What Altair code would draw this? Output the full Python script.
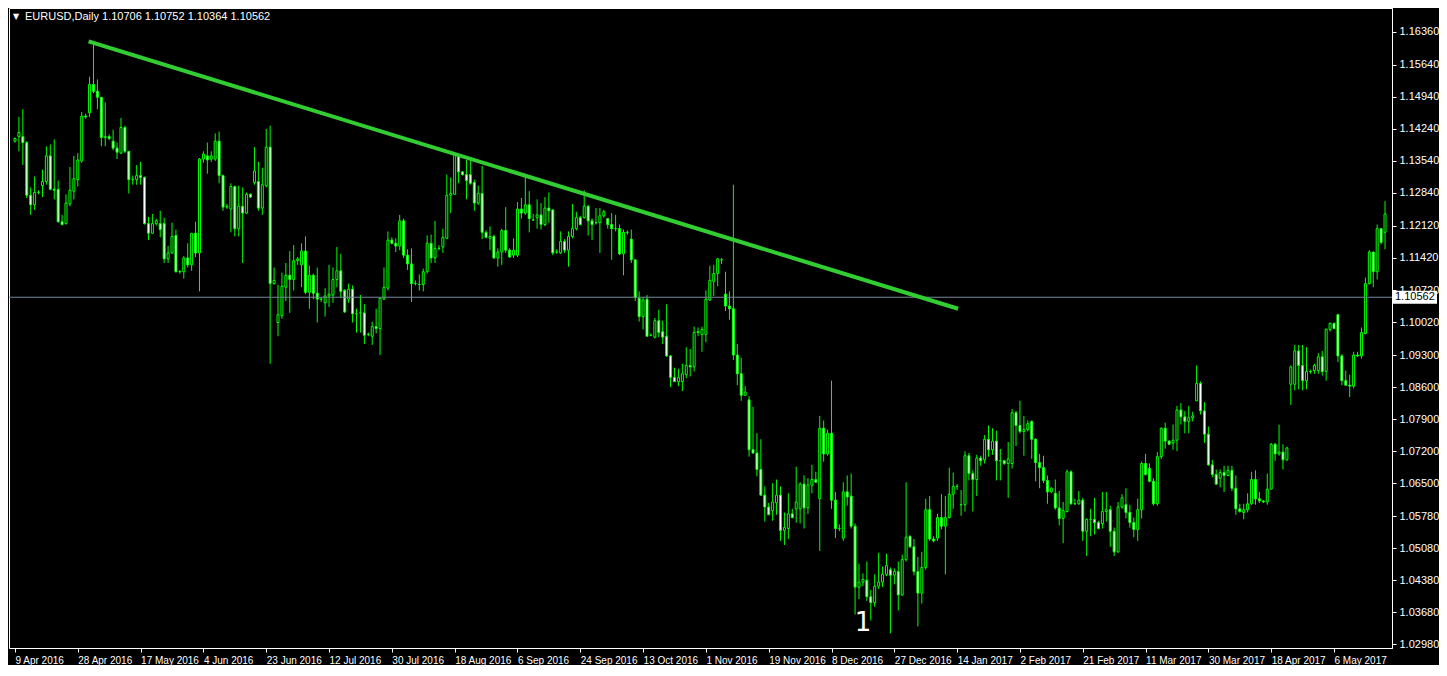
import altair as alt
import pandas as pd

# ---------------- data (EURUSD, Daily) ----------------
opens = [
1.1397,1.1407,1.1407,1.1394,1.1279,1.1258,1.1285,1.1300,1.1309,1.1365,
1.1292,1.1292,1.1221,1.1217,1.1260,1.1288,1.1313,1.1354,1.1452,1.1459,
1.1521,1.1506,1.1493,1.1405,1.1407,1.1397,1.1382,1.1371,1.1427,1.1375,
1.1313,1.1313,1.1322,1.1318,1.1217,1.1196,1.1217,1.1217,1.1217,1.1140,
1.1153,1.1191,1.1112,1.1112,1.1142,1.1127,1.1196,1.1153,1.1358,1.1365,
1.1358,1.1358,1.1397,1.1322,1.1253,1.1249,1.1298,1.1206,1.1255,1.1240,
1.1281,1.1307,1.1309,1.1251,1.1300,1.1384,1.1086,1.1001,1.1016,1.1078,
1.1104,1.1095,1.1136,1.1127,1.1157,1.1067,1.1104,1.1065,1.1052,1.1044,
1.1059,1.1061,1.1095,1.1114,1.1071,1.1052,1.1074,1.1020,1.1022,1.1022,
1.0975,1.0971,1.0992,1.0988,1.1052,1.1076,1.1181,1.1174,1.1168,1.1223,
1.1148,1.1129,1.1086,1.1084,1.1084,1.1112,1.1174,1.1142,1.1163,1.1166,
1.1185,1.1279,1.1281,1.1367,1.1330,1.1324,1.1324,1.1307,1.1262,1.1283,
1.1198,1.1185,1.1189,1.1142,1.1155,1.1202,1.1159,1.1148,1.1148,1.1249,
1.1240,1.1258,1.1225,1.1230,1.1236,1.1215,1.1251,1.1247,1.1155,1.1153,
1.1178,1.1159,1.1189,1.1206,1.1230,1.1230,1.1255,1.1223,1.1219,1.1219,
1.1234,1.1228,1.1215,1.1206,1.1206,1.1151,1.1198,1.1183,1.1138,1.1054,
1.1014,1.1052,1.0973,1.0969,1.1005,1.0981,1.0971,1.0928,1.0881,1.0872,
1.0872,1.0887,1.0907,1.0904,1.0979,1.0975,1.0975,1.1050,1.1091,1.1108,
1.1138,1.1063,1.1037,1.1031,1.0930,1.0889,1.0842,1.0832,1.0723,1.0716,
1.0680,1.0624,1.0598,1.0590,1.0607,1.0624,1.0547,1.0551,1.0583,1.0594,
1.0594,1.0648,1.0596,1.0646,1.0658,1.0616,1.0770,1.0714,1.0759,1.0613,
1.0551,1.0530,1.0631,1.0622,1.0556,1.0423,1.0434,1.0438,1.0402,1.0389,
1.0425,1.0434,1.0451,1.0461,1.0449,1.0457,1.0406,1.0483,1.0534,1.0511,
1.0457,1.0410,1.0466,1.0592,1.0528,1.0530,1.0575,1.0556,1.0575,1.0626,
1.0643,1.0603,1.0603,1.0710,1.0671,1.0658,1.0705,1.0701,1.0746,1.0723,
1.0742,1.0699,1.0699,1.0693,1.0693,1.0804,1.0776,1.0763,1.0767,1.0785,
1.0746,1.0695,1.0684,1.0656,1.0631,1.0628,1.0596,1.0573,1.0588,1.0675,
1.0605,1.0605,1.0613,1.0545,1.0571,1.0571,1.0564,1.0562,1.0588,1.0592,
1.0545,1.0500,1.0598,1.0603,1.0586,1.0564,1.0549,1.0592,1.0693,1.0682,
1.0654,1.0605,1.0708,1.0770,1.0742,1.0738,1.0744,1.0810,1.0795,1.0785,
1.0793,1.0830,1.0868,1.0808,1.0757,1.0690,1.0669,1.0661,1.0673,1.0667,
1.0678,1.0639,1.0594,1.0586,1.0592,1.0605,1.0658,1.0616,1.0611,1.0609,
1.0637,1.0735,1.0714,1.0718,1.0701,1.0866,1.0866,1.0939,1.0907,1.0874,
1.0894,1.0896,1.0896,1.0926,1.0894,1.0986,1.0999,1.1018,1.0928,1.0874,
1.0864,1.0862,1.0930,1.0928,1.0977,1.1086,1.1155,1.1112,1.1206,1.1198,
]
highs = [
1.1405,1.1450,1.1467,1.1397,1.1296,1.1320,1.1290,1.1335,1.1386,1.1390,
1.1401,1.1311,1.1236,1.1281,1.1341,1.1365,1.1371,1.1461,1.1457,1.1538,
1.1613,1.1532,1.1493,1.1482,1.1412,1.1422,1.1394,1.1448,1.1431,1.1375,
1.1322,1.1345,1.1352,1.1320,1.1232,1.1238,1.1228,1.1245,1.1230,1.1168,
1.1219,1.1204,1.1116,1.1146,1.1174,1.1196,1.1221,1.1360,1.1375,1.1394,
1.1375,1.1414,1.1418,1.1324,1.1260,1.1305,1.1300,1.1300,1.1296,1.1285,
1.1283,1.1384,1.1352,1.1339,1.1424,1.1431,1.1121,1.1084,1.1110,1.1131,
1.1157,1.1170,1.1144,1.1174,1.1189,1.1125,1.1108,1.1121,1.1056,1.1076,
1.1127,1.1121,1.1166,1.1151,1.1074,1.1086,1.1082,1.1031,1.1061,1.1041,
1.0979,1.1003,1.1031,1.1054,1.1121,1.1200,1.1187,1.1185,1.1236,1.1228,
1.1161,1.1163,1.1093,1.1106,1.1119,1.1191,1.1193,1.1223,1.1170,1.1206,
1.1324,1.1318,1.1371,1.1369,1.1332,1.1356,1.1356,1.1313,1.1300,1.1343,
1.1202,1.1211,1.1193,1.1163,1.1206,1.1253,1.1163,1.1185,1.1264,1.1273,
1.1320,1.1288,1.1238,1.1270,1.1262,1.1275,1.1285,1.1247,1.1161,1.1200,
1.1183,1.1200,1.1260,1.1243,1.1234,1.1290,1.1258,1.1228,1.1251,1.1251,
1.1247,1.1228,1.1240,1.1236,1.1215,1.1204,1.1202,1.1204,1.1138,1.1069,
1.1056,1.1061,1.0977,1.1011,1.1029,1.1005,1.1041,1.0930,1.0902,1.0900,
1.0911,1.0947,1.0943,1.0992,1.0990,1.0992,1.1071,1.1125,1.1127,1.1142,
1.1142,1.1112,1.1069,1.1302,1.0954,1.0924,1.0862,1.0840,1.0817,1.0759,
1.0746,1.0643,1.0607,1.0650,1.0658,1.0643,1.0586,1.0628,1.0594,1.0686,
1.0652,1.0667,1.0661,1.0690,1.0675,1.0797,1.0787,1.0767,1.0874,1.0631,
1.0560,1.0652,1.0667,1.0671,1.0562,1.0474,1.0453,1.0479,1.0417,1.0451,
1.0498,1.0468,1.0496,1.0466,1.0464,1.0479,1.0494,1.0652,1.0536,1.0528,
1.0489,1.0500,1.0616,1.0622,1.0534,1.0583,1.0626,1.0622,1.0684,1.0673,
1.0648,1.0635,1.0720,1.0716,1.0678,1.0712,1.0710,1.0755,1.0776,1.0770,
1.0765,1.0725,1.0701,1.0740,1.0812,1.0808,1.0830,1.0797,1.0787,1.0787,
1.0748,1.0714,1.0710,1.0667,1.0641,1.0658,1.0633,1.0609,1.0680,1.0678,
1.0616,1.0633,1.0618,1.0573,1.0594,1.0618,1.0568,1.0631,1.0631,1.0601,
1.0553,1.0609,1.0626,1.0639,1.0603,1.0575,1.0616,1.0697,1.0714,1.0693,
1.0661,1.0718,1.0772,1.0782,1.0744,1.0778,1.0819,1.0825,1.0808,1.0819,
1.0806,1.0907,1.0872,1.0827,1.0774,1.0701,1.0680,1.0680,1.0688,1.0688,
1.0688,1.0667,1.0605,1.0605,1.0628,1.0675,1.0678,1.0631,1.0613,1.0671,
1.0738,1.0738,1.0778,1.0735,1.0729,1.0907,1.0952,1.0952,1.0952,1.0947,
1.0898,1.0911,1.0934,1.0939,1.0988,1.1001,1.1001,1.1020,1.0932,1.0896,
1.0887,1.0937,1.0937,1.0990,1.1099,1.1159,1.1155,1.1215,1.1206,1.1266,
]
lows = [
1.1394,1.1375,1.1345,1.1273,1.1236,1.1247,1.1281,1.1275,1.1302,1.1290,
1.1270,1.1219,1.1213,1.1215,1.1255,1.1270,1.1298,1.1350,1.1446,1.1450,
1.1502,1.1467,1.1386,1.1386,1.1399,1.1377,1.1358,1.1369,1.1371,1.1283,
1.1302,1.1302,1.1302,1.1215,1.1181,1.1196,1.1213,1.1187,1.1131,1.1131,
1.1151,1.1110,1.1108,1.1097,1.1121,1.1114,1.1144,1.1069,1.1350,1.1326,
1.1352,1.1354,1.1305,1.1245,1.1249,1.1198,1.1189,1.1189,1.1131,1.1238,
1.1273,1.1302,1.1245,1.1236,1.1296,1.0911,1.1084,1.0971,1.1009,1.1048,
1.1022,1.1071,1.1127,1.1078,1.1063,1.1031,1.1052,1.1001,1.1046,1.1014,
1.1035,1.1044,1.1078,1.1054,1.1022,1.1044,1.1001,1.0979,1.0979,1.0954,
1.0971,1.0952,1.0977,1.0930,1.1050,1.1071,1.1172,1.1155,1.1159,1.1142,
1.1116,1.1046,1.1082,1.1071,1.1069,1.1108,1.1131,1.1131,1.1159,1.1153,
1.1183,1.1240,1.1281,1.1305,1.1322,1.1270,1.1302,1.1245,1.1258,1.1183,
1.1185,1.1159,1.1140,1.1123,1.1127,1.1153,1.1142,1.1142,1.1144,1.1228,
1.1236,1.1198,1.1223,1.1206,1.1204,1.1211,1.1219,1.1148,1.1151,1.1151,
1.1153,1.1123,1.1185,1.1202,1.1213,1.1228,1.1191,1.1181,1.1215,1.1153,
1.1230,1.1206,1.1138,1.1200,1.1148,1.1104,1.1193,1.1131,1.1048,1.1003,
1.0986,1.0971,1.0971,1.0966,1.0969,1.0954,1.0926,1.0860,1.0872,1.0862,
1.0851,1.0879,1.0883,1.0894,1.0971,1.0937,1.0958,1.1048,1.1059,1.1080,
1.1129,1.1026,1.1007,1.0919,1.0864,1.0830,1.0842,1.0708,1.0714,1.0665,
1.0622,1.0566,1.0581,1.0568,1.0581,1.0524,1.0515,1.0528,1.0573,1.0564,
1.0562,1.0551,1.0583,1.0628,1.0652,1.0502,1.0697,1.0710,1.0594,1.0530,
1.0545,1.0524,1.0601,1.0551,1.0363,1.0397,1.0425,1.0393,1.0350,1.0380,
1.0419,1.0423,1.0447,1.0322,1.0429,1.0372,1.0404,1.0479,1.0509,1.0449,
1.0337,1.0387,1.0461,1.0524,1.0521,1.0524,1.0549,1.0451,1.0573,1.0594,
1.0635,1.0579,1.0588,1.0656,1.0588,1.0622,1.0688,1.0693,1.0708,1.0712,
1.0656,1.0656,1.0690,1.0618,1.0682,1.0731,1.0759,1.0710,1.0763,1.0703,
1.0654,1.0639,1.0650,1.0605,1.0628,1.0592,1.0558,1.0519,1.0586,1.0603,
1.0603,1.0603,1.0524,1.0491,1.0534,1.0538,1.0549,1.0551,1.0566,1.0511,
1.0491,1.0498,1.0594,1.0573,1.0553,1.0532,1.0524,1.0573,1.0667,1.0652,
1.0601,1.0601,1.0703,1.0725,1.0733,1.0723,1.0720,1.0778,1.0759,1.0759,
1.0785,1.0830,1.0800,1.0738,1.0688,1.0663,1.0646,1.0641,1.0631,1.0665,
1.0633,1.0581,1.0586,1.0571,1.0586,1.0603,1.0603,1.0607,1.0607,1.0603,
1.0637,1.0699,1.0710,1.0680,1.0699,1.0821,1.0853,1.0855,1.0853,1.0855,
1.0889,1.0889,1.0889,1.0885,1.0874,1.0981,1.0986,1.0915,1.0864,1.0864,
1.0838,1.0857,1.0926,1.0922,1.0975,1.1084,1.1078,1.1095,1.1172,1.1161,
]
closes = [
1.1403,1.1416,1.1394,1.1279,1.1258,1.1285,1.1285,1.1309,1.1365,1.1292,
1.1290,1.1221,1.1215,1.1262,1.1290,1.1315,1.1356,1.1452,1.1450,1.1521,
1.1506,1.1493,1.1405,1.1407,1.1403,1.1382,1.1373,1.1427,1.1375,1.1313,
1.1313,1.1322,1.1318,1.1217,1.1196,1.1217,1.1223,1.1204,1.1140,1.1153,
1.1189,1.1112,1.1112,1.1142,1.1127,1.1196,1.1153,1.1358,1.1369,1.1356,
1.1365,1.1397,1.1322,1.1253,1.1255,1.1298,1.1206,1.1255,1.1240,1.1281,
1.1275,1.1332,1.1251,1.1302,1.1384,1.1086,1.1093,1.1018,1.1080,1.1104,
1.1095,1.1136,1.1140,1.1157,1.1067,1.1104,1.1065,1.1052,1.1052,1.1059,
1.1063,1.1095,1.1114,1.1069,1.1024,1.1074,1.1020,1.1020,1.1022,1.0973,
1.0975,1.0992,1.0988,1.1054,1.1078,1.1181,1.1174,1.1168,1.1223,1.1148,
1.1129,1.1086,1.1086,1.1084,1.1112,1.1174,1.1142,1.1163,1.1163,1.1187,
1.1279,1.1283,1.1367,1.1330,1.1324,1.1311,1.1305,1.1262,1.1283,1.1198,
1.1187,1.1189,1.1142,1.1155,1.1202,1.1159,1.1144,1.1159,1.1249,1.1240,
1.1258,1.1228,1.1225,1.1236,1.1215,1.1251,1.1245,1.1153,1.1155,1.1178,
1.1159,1.1189,1.1206,1.1230,1.1215,1.1255,1.1223,1.1215,1.1219,1.1234,
1.1243,1.1215,1.1206,1.1206,1.1151,1.1198,1.1198,1.1138,1.1056,1.1014,
1.1050,1.0971,1.0973,1.1005,1.0979,1.0969,1.0928,1.0881,1.0872,1.0881,
1.0889,1.0907,1.0904,1.0979,1.0981,1.0986,1.1052,1.1093,1.1108,1.1140,
1.1138,1.1037,1.1031,1.0930,1.0889,1.0842,1.0849,1.0723,1.0716,1.0680,
1.0624,1.0598,1.0581,1.0609,1.0624,1.0547,1.0553,1.0583,1.0575,1.0609,
1.0648,1.0596,1.0646,1.0658,1.0652,1.0770,1.0714,1.0759,1.0613,1.0551,
1.0551,1.0631,1.0620,1.0556,1.0423,1.0434,1.0440,1.0402,1.0389,1.0425,
1.0434,1.0451,1.0470,1.0449,1.0457,1.0406,1.0483,1.0532,1.0511,1.0457,
1.0410,1.0466,1.0592,1.0528,1.0524,1.0575,1.0556,1.0575,1.0626,1.0643,
1.0643,1.0603,1.0710,1.0671,1.0658,1.0705,1.0699,1.0746,1.0723,1.0742,
1.0699,1.0699,1.0693,1.0703,1.0804,1.0776,1.0763,1.0767,1.0780,1.0746,
1.0695,1.0684,1.0656,1.0631,1.0639,1.0596,1.0573,1.0590,1.0675,1.0605,
1.0605,1.0613,1.0545,1.0571,1.0571,1.0564,1.0551,1.0588,1.0592,1.0545,
1.0500,1.0598,1.0618,1.0586,1.0564,1.0549,1.0592,1.0693,1.0669,1.0654,
1.0605,1.0708,1.0770,1.0742,1.0735,1.0744,1.0810,1.0795,1.0785,1.0793,
1.0797,1.0868,1.0808,1.0757,1.0690,1.0669,1.0648,1.0673,1.0667,1.0678,
1.0639,1.0594,1.0588,1.0592,1.0605,1.0658,1.0616,1.0611,1.0609,1.0637,
1.0735,1.0714,1.0718,1.0701,1.0727,1.0904,1.0939,1.0907,1.0874,1.0894,
1.0894,1.0907,1.0926,1.0894,1.0986,1.0999,1.0988,1.0928,1.0874,1.0864,
1.0862,1.0930,1.0928,1.0979,1.1086,1.1155,1.1112,1.1206,1.1176,1.1238,
]

date_labels = [
    "9 Apr 2016", "28 Apr 2016", "17 May 2016", "4 Jun 2016", "23 Jun 2016",
    "12 Jul 2016", "30 Jul 2016", "18 Aug 2016", "6 Sep 2016", "24 Sep 2016",
    "13 Oct 2016", "1 Nov 2016", "19 Nov 2016", "8 Dec 2016", "27 Dec 2016",
    "14 Jan 2017", "2 Feb 2017", "21 Feb 2017", "11 Mar 2017", "30 Mar 2017",
    "18 Apr 2017", "6 May 2017",
]
label_step = 16  # bars between date labels
price_ticks = [1.16360, 1.15640, 1.14940, 1.14240, 1.13540, 1.12840, 1.12120,
               1.11420, 1.10720, 1.10020, 1.09300, 1.08600, 1.07900, 1.07200,
               1.06500, 1.05780, 1.05080, 1.04380, 1.03680, 1.02980]

trend_bars = [18.75, 240.25]
trend_prices = [1.1615, 1.1031]
bid_price = 1.10562
header_text = "EURUSD,Daily  1.10706 1.10752 1.10364 1.10562"
wave_bar = [216]
wave_price = [1.0345]
wave_text = ["1"]

# ---------------- chart ----------------
W, H = 1383, 640
FONT = "Liberation Sans"
LIME = "#00FF00"

n = len(opens)
df = pd.DataFrame({"bar": list(range(n)), "open": opens, "high": highs,
                   "low": lows, "close": closes})

xscale = alt.Scale(domain=[-0.25, 349.5], nice=False, zero=False)
yscale = alt.Scale(domain=[1.0290, 1.1688], nice=False, zero=False)

label_expr = "[" + ",".join("'%s'" % s for s in date_labels) + "][round(datum.value / %d)]" % label_step
xaxis = alt.Axis(values=[k * label_step for k in range(len(date_labels))],
                 labelExpr=label_expr, title=None, grid=False,
                 domainColor="white", tickColor="white", tickSize=4,
                 labelColor="white", labelAlign="left", labelFont=FONT,
                 labelFontSize=10, labelPadding=3, labelOverlap=False,
                 labelFlush=False, labelBound=False)
yaxis = alt.Axis(orient="right", values=price_ticks, format=".5f", title=None,
                 grid=False, domainColor="white", tickColor="white", tickSize=4,
                 labelColor="white", labelFont=FONT, labelFontSize=11,
                 labelPadding=3, labelOverlap=False, labelFlush=False)


def X(field):
    return alt.X(field, scale=xscale, axis=xaxis)


def Y(field):
    return alt.Y(field, scale=yscale, axis=yaxis)


base = alt.Chart(df)
wicks = base.mark_rule(color=LIME, strokeWidth=1).encode(
    x=X("bar:Q"), y=Y("low:Q"), y2="high:Q",
)
bodies = base.mark_bar(width=2, stroke=LIME, strokeWidth=1).encode(
    x=X("bar:Q"), y=Y("open:Q"), y2="close:Q",
    fill=alt.condition("datum.close > datum.open", alt.value("black"), alt.value("white")),
)

bid_df = pd.DataFrame({"price": [bid_price], "label": ["%.5f" % bid_price]})
bid_line = alt.Chart(bid_df).mark_rule(color="#778899", strokeWidth=1).encode(
    y=Y("price:Q")
)
bid_box = alt.Chart(bid_df).mark_tick(orient="horizontal", size=44, thickness=13,
                                      color="white", opacity=1).encode(
    x=alt.value(W + 23), y=Y("price:Q"),
)
bid_text = alt.Chart(bid_df).mark_text(align="left", baseline="middle", color="black",
                                       font=FONT, fontSize=11).encode(
    x=alt.value(W + 3), y=Y("price:Q"), text="label:N",
)

trend_df = pd.DataFrame({"bar": trend_bars, "price": trend_prices})
trend = alt.Chart(trend_df).mark_line(color="#32CD32", strokeWidth=4, strokeCap="butt").encode(
    x=X("bar:Q"), y=Y("price:Q"),
)

wave_df = pd.DataFrame({"bar": wave_bar, "price": wave_price, "t": wave_text})
wave = alt.Chart(wave_df).mark_text(color="white", font="DejaVu Sans", fontSize=26,
                                    baseline="middle", align="center").encode(
    x=X("bar:Q"), y=Y("price:Q"), text="t:N",
)

head_df = pd.DataFrame({"t": [header_text], "tri": ["\u25BC"]})
header = alt.Chart(head_df).mark_text(align="left", baseline="middle", color="white",
                                      font=FONT, fontSize=11).encode(
    x=alt.value(16), y=alt.value(9), text="t:N")
triangle = alt.Chart(head_df).mark_text(align="center", baseline="middle", color="white",
                                        font="DejaVu Sans", fontSize=8).encode(
    x=alt.value(7), y=alt.value(9), text="tri:N")

chart = alt.layer(
    wicks, bodies, bid_line, trend, wave, header, triangle, bid_box, bid_text
).properties(
    width=W, height=H, background="black",
    padding={"left": 0, "top": 0, "right": 0, "bottom": 0},
).configure_view(stroke="white", strokeWidth=1)

chart.save("out.html", embed_options={"renderer": "svg", "actions": False})
